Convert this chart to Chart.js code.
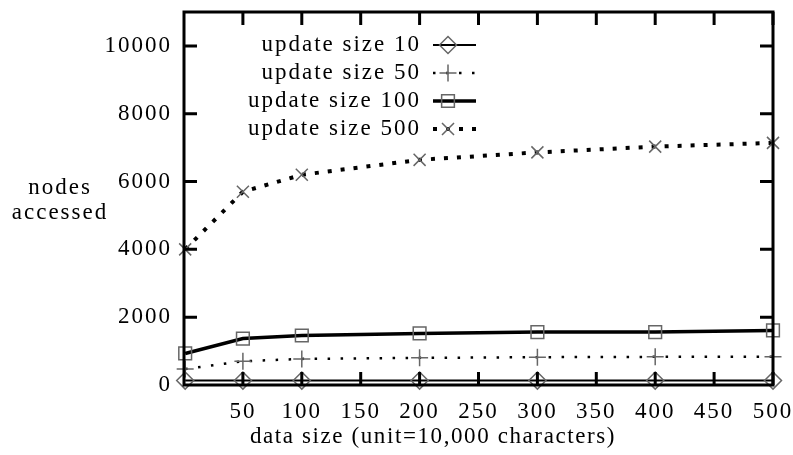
<!DOCTYPE html>
<html>
<head>
<meta charset="utf-8">
<script src="https://cdn.jsdelivr.net/npm/chart.js@4.4.0/dist/chart.umd.min.js"></script>
<style>
    html, body { margin: 0; padding: 0; background: #fff; }
    #wrap { width: 793px; height: 455px; }
</style>
</head>
<body>
<div id="wrap"><canvas id="nodesChart" width="793" height="455"></canvas></div>
<script>
// data
const dataSizes = [1, 50, 100, 200, 300, 400, 500];
const update10 = [130, 130, 130, 130, 130, 130, 130];
const update50 = [470, 700, 770, 800, 820, 830, 830];
const update100 = [930, 1370, 1460, 1520, 1560, 1560, 1610];
const update500 = [4000, 5700, 6200, 6640, 6860, 7030, 7140];
const seriesLabels = ['update size 10', 'update size 50', 'update size 100', 'update size 500'];
const xTicks = [50, 100, 150, 200, 250, 300, 350, 400, 450, 500];
const yTicks = [0, 2000, 4000, 6000, 8000, 10000];
const xTitle = 'data size (unit=10,000 characters)';
const yTitle = ['nodes', 'accessed'];

const FONT = "'Liberation Serif', serif";
const FONT_SIZE = 23;
const MARK = '#666';

function toPoints(values) {
    return dataSizes.map((x, i) => ({ x: x, y: values[i] }));
}

function series(label, values, width, dash, pointStyle) {
    return {
        label: label,
        data: toPoints(values),
        borderColor: '#000',
        borderWidth: width,
        borderDash: dash,
        borderCapStyle: 'butt',
        tension: 0,
        fill: false,
        pointStyle: pointStyle,
        pointRadius: pointStyle === 'rect' ? 9 : 8.5,
        pointBorderWidth: 1.5,
        pointBorderColor: MARK,
        pointBackgroundColor: 'rgba(0,0,0,0)',
        clip: false
    };
}

// frame, inward ticks, titles and the legend gnuplot-style
const framePlugin = {
    id: 'frame',
    beforeDraw(chart) {
        chart.ctx.letterSpacing = '2px';
    },
    afterDraw(chart) {
        const ctx = chart.ctx;
        const a = chart.chartArea;
        const xs = chart.scales.x;
        const ys = chart.scales.y;
        ctx.save();
        ctx.strokeStyle = '#000';
        ctx.lineWidth = 3;
        ctx.strokeRect(a.left, a.top, a.right - a.left, a.bottom - a.top);

        ctx.beginPath();
        yTicks.forEach(v => {
            if (v === 0) return;
            const y = ys.getPixelForValue(v);
            ctx.moveTo(a.left, y); ctx.lineTo(a.left + 13, y);
            ctx.moveTo(a.right, y); ctx.lineTo(a.right - 13, y);
        });
        xTicks.forEach(v => {
            const x = xs.getPixelForValue(v);
            ctx.moveTo(x, a.bottom); ctx.lineTo(x, a.bottom - 13);
            ctx.moveTo(x, a.top); ctx.lineTo(x, a.top + 13);
        });
        ctx.stroke();

        // titles
        ctx.fillStyle = '#000';
        ctx.font = FONT_SIZE + 'px ' + FONT;
        ctx.textAlign = 'center';
        ctx.textBaseline = 'middle';
        ctx.letterSpacing = '1.6px';
        ctx.fillText(xTitle, 433, 437);
        ctx.letterSpacing = '2px';
        ctx.fillText(yTitle[0], 60, 188);
        ctx.fillText(yTitle[1], 60, 213);

        // legend
        chart.data.datasets.forEach((ds, i) => {
            const y = 45 + 28 * i;
            ctx.textAlign = 'right';
            ctx.fillStyle = '#000';
            ctx.fillText(ds.label, 421, y);
            ctx.beginPath();
            ctx.strokeStyle = '#000';
            ctx.setLineDash(ds.borderDash || []);
            ctx.lineWidth = ds.borderWidth;
            ctx.lineCap = 'butt';
            ctx.moveTo(433, y); ctx.lineTo(476, y);
            ctx.stroke();
            ctx.setLineDash([]);
            ctx.fillStyle = 'rgba(0,0,0,0)';
            ctx.strokeStyle = MARK;
            ctx.lineWidth = ds.pointBorderWidth;
            Chart.helpers.drawPoint(ctx, {
                pointStyle: ds.pointStyle,
                radius: ds.pointRadius,
                rotation: 0,
                borderWidth: ds.pointBorderWidth
            }, 448, y);
        });
        ctx.restore();
    }
};

const tickFont = { family: FONT, size: FONT_SIZE };

function noPadding(s) {
    s.paddingLeft = 0; s.paddingRight = 0;
    s.paddingTop = 0; s.paddingBottom = 0;
}

new Chart(document.getElementById('nodesChart').getContext('2d'), {
    type: 'line',
    data: {
        datasets: [
            series(seriesLabels[0], update10, 2, [], 'rectRot'),
            series(seriesLabels[1], update50, 2.5, [2.5, 10.5], 'cross'),
            series(seriesLabels[2], update100, 3.5, [], 'rect'),
            series(seriesLabels[3], update500, 4, [4, 9], 'crossRot')
        ]
    },
    options: {
        responsive: false,
        devicePixelRatio: 1,
        animation: false,
        layout: { padding: { top: 12, right: 20, left: 0, bottom: 0 } },
        plugins: {
            legend: { display: false },
            tooltip: { enabled: false }
        },
        scales: {
            x: {
                type: 'linear',
                min: 0,
                max: 500,
                afterBuildTicks: s => { s.ticks = xTicks.map(v => ({ value: v })); },
                afterFit: s => { s.height = 70; noPadding(s); },
                grid: { display: false, drawTicks: false },
                border: { display: false },
                ticks: { font: tickFont, color: '#000', padding: 13, maxRotation: 0, autoSkip: false,
                         callback: v => String(v) }
            },
            y: {
                type: 'linear',
                min: 0,
                max: 11000,
                afterBuildTicks: s => { s.ticks = yTicks.map(v => ({ value: v })); },
                afterFit: s => { s.width = 184; noPadding(s); },
                grid: { display: false, drawTicks: false },
                border: { display: false },
                ticks: { font: tickFont, color: '#000', padding: 12, callback: v => String(v) }
            }
        }
    },
    plugins: [framePlugin]
});
</script>
</body>
</html>
